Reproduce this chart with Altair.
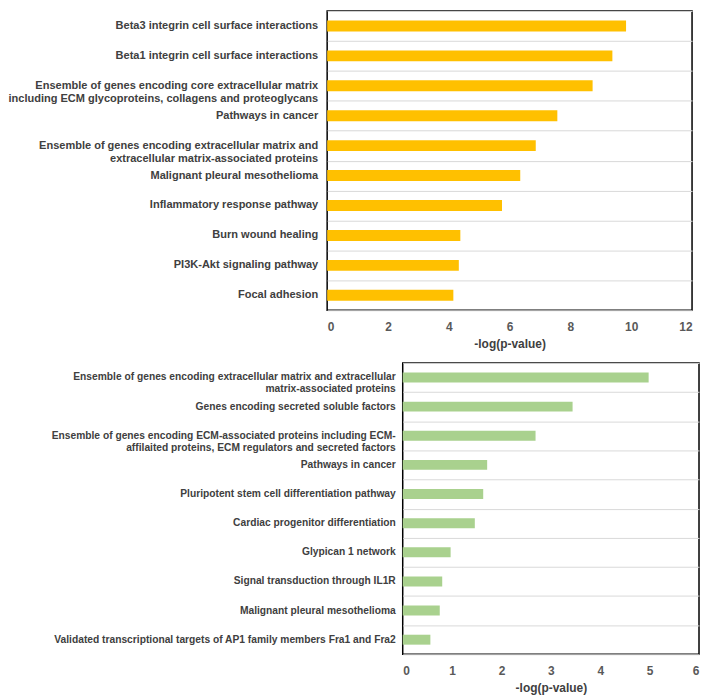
import altair as alt
import pandas as pd

top_terms = [
    "Beta3 integrin cell surface interactions",
    "Beta1 integrin cell surface interactions",
    "Ensemble of genes encoding core extracellular matrix\nincluding ECM glycoproteins, collagens and proteoglycans",
    "Pathways in cancer",
    "Ensemble of genes encoding extracellular matrix and\nextracellular matrix-associated proteins",
    "Malignant pleural mesothelioma",
    "Inflammatory response pathway",
    "Burn wound healing",
    "PI3K-Akt signaling pathway",
    "Focal adhesion",
]
top_values = [9.83, 9.38, 8.73, 7.57, 6.86, 6.35, 5.75, 4.38, 4.33, 4.15]
top_ticks = [0, 2, 4, 6, 8, 10, 12]

bottom_terms = [
    "Ensemble of genes encoding extracellular matrix and extracellular\nmatrix-associated proteins",
    "Genes encoding secreted soluble factors",
    "Ensemble of genes encoding ECM-associated proteins including ECM-\naffilaited proteins, ECM regulators and secreted factors",
    "Pathways in cancer",
    "Pluripotent stem cell differentiation pathway",
    "Cardiac progenitor differentiation",
    "Glypican 1 network",
    "Signal transduction through IL1R",
    "Malignant pleural mesothelioma",
    "Validated transcriptional targets of AP1 family members Fra1 and Fra2",
]
bottom_values = [4.98, 3.44, 2.69, 1.71, 1.63, 1.46, 0.97, 0.80, 0.75, 0.56]
bottom_ticks = [0, 1, 2, 3, 4, 5, 6]

FONT = "Liberation Sans"
X_TITLE = "-log(p-value)"


def panel(terms, values, ticks, color, label_w, label_size, line_h,
          plot_w, plot_h, bar_size, spacing):
    df = pd.DataFrame({"term": terms, "value": values})
    labels = alt.Chart(df).mark_text(
        align="right", baseline="middle", lineBreak="\n", font=FONT,
        fontWeight="bold", fontSize=label_size, lineHeight=line_h,
        color="#404040",
    ).encode(
        y=alt.Y("term:N", sort=terms, axis=None,
                scale=alt.Scale(type="point", padding=0.5)),
        x=alt.value(label_w),
        text="term:N",
    ).properties(width=label_w, height=plot_h,
                 view=alt.ViewBackground(stroke=None))

    bars = alt.Chart(df).mark_bar(size=bar_size, color=color).encode(
        y=alt.Y("term:N", sort=terms, title=None,
                scale=alt.Scale(paddingInner=0, paddingOuter=0),
                axis=alt.Axis(labels=False, ticks=False, domain=False,
                              grid=True, tickBand="extent",
                              gridColor="#d9d9d9", gridWidth=1)),
        x=alt.X("value:Q",
                scale=alt.Scale(domain=[ticks[0], ticks[-1]], nice=False),
                axis=alt.Axis(values=ticks, title=X_TITLE, grid=False,
                              ticks=False, domain=False, labelPadding=11,
                              labelFont=FONT, labelFontWeight="bold",
                              labelFontSize=12, labelColor="#595959",
                              titleFont=FONT, titleFontWeight="bold",
                              titleFontSize=12, titleColor="#404040",
                              titlePadding=6)),
    ).properties(width=plot_w, height=plot_h,
                 view=alt.ViewBackground(stroke="black", strokeWidth=1.5))
    return alt.hconcat(labels, bars, spacing=spacing, bounds="flush")


top = panel(top_terms, top_values, top_ticks, "#FFC000", 312, 11.1, 13.5,
            367, 301, 11, 9)
bottom = panel(bottom_terms, bottom_values, bottom_ticks, "#A9D18E", 390, 10.3,
               12, 298, 293, 10, 7)

chart = alt.vconcat(top, bottom, spacing=12).properties(
    padding=0, background="white"
)

chart.save("out.html", embed_options={"renderer": "svg", "actions": False})
